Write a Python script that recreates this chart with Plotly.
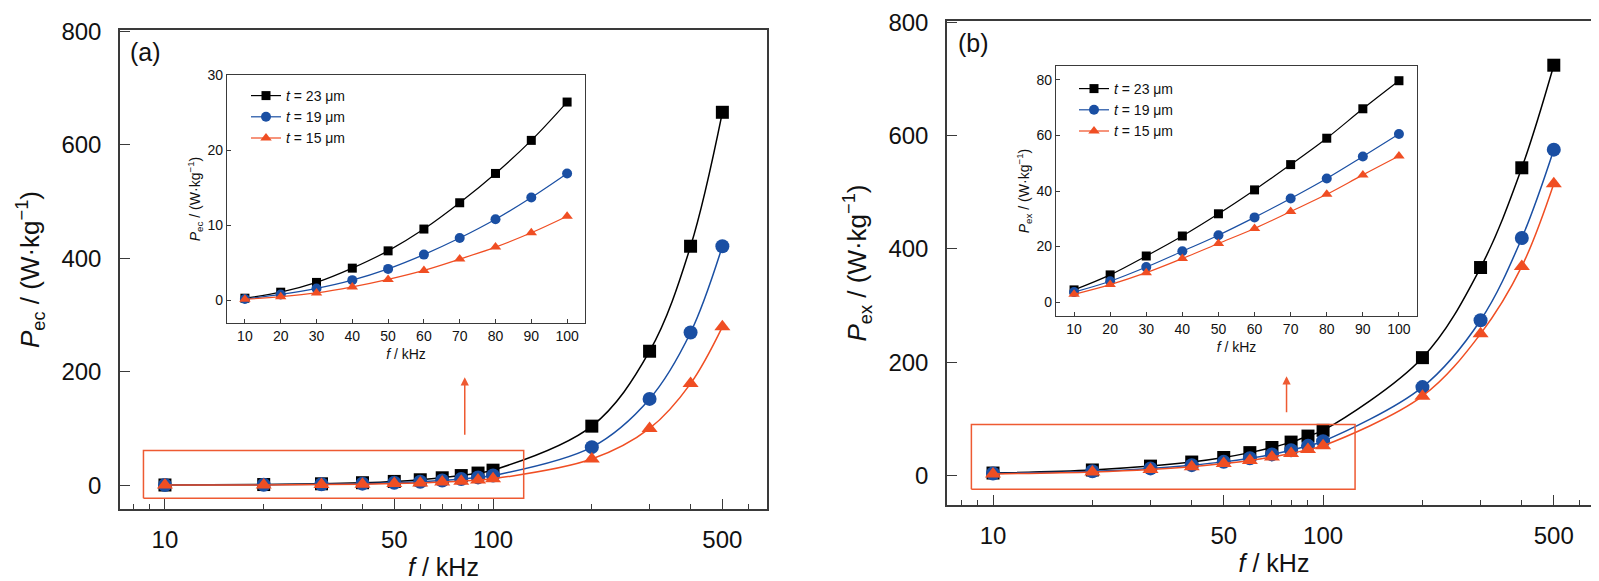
import math
import plotly.graph_objects as go

# frequencies (kHz)
freq = [10, 20, 30, 40, 50, 60, 70, 80, 90, 100, 200, 300, 400, 500]
freq_inset = freq[:10]

# (a) eddy-current loss P_ec (W/kg)
pec_23 = [0.3, 1.1, 2.4, 4.3, 6.6, 9.5, 13.0, 16.9, 21.3, 26.4, 104, 236, 421, 657]
pec_19 = [0.2, 0.8, 1.6, 2.7, 4.2, 6.1, 8.3, 10.8, 13.7, 16.9, 67, 152, 269, 421]
pec_15 = [0.15, 0.5, 1.0, 1.8, 2.8, 4.0, 5.5, 7.1, 9.0, 11.2, 46, 100, 179, 279]

# (b) excess loss P_ex (W/kg)
pex_23 = [4.4, 9.8, 16.6, 23.8, 31.8, 40.4, 49.5, 59.0, 69.6, 79.7, 208, 367, 543, 724]
pex_19 = [3.6, 7.5, 12.6, 18.3, 24.1, 30.5, 37.3, 44.5, 52.4, 60.5, 156, 274, 419, 575]
pex_15 = [2.8, 6.3, 10.6, 15.7, 21.1, 26.5, 32.6, 38.8, 45.8, 52.6, 140, 250, 369, 515]

names = ["<i>t</i> = 23 \u03bcm", "<i>t</i> = 19 \u03bcm", "<i>t</i> = 15 \u03bcm"]
colors = ["#000000", "#1a4fa3", "#f04e23"]
symbols = ["square", "circle", "triangle-up"]
main_sizes = [13, 14, 14]
inset_sizes = [9, 10, 10]

# zoom boxes / arrows (data units)
box_a = dict(x=[8.6, 124], y=[-23, 61])
box_b = dict(x=[8.6, 125], y=[-24, 90])
arrow_a = dict(x=82, y=[86, 190])
arrow_b = dict(x=77.5, y=[109, 175])

FONT = "Liberation Sans, Arial, sans-serif"
AX = "#3a3a3a"
RED = "#ee5a32"
W, H = 1599, 581

fig = go.Figure()


def add_panel(ys, xa, ya, xi, yi, legend):
    for k in range(3):
        fig.add_trace(go.Scatter(
            x=freq, y=ys[k], xaxis=xa, yaxis=ya, mode="lines+markers",
            line=dict(color=colors[k], width=1.5, shape="spline"),
            marker=dict(symbol=symbols[k], size=main_sizes[k], color=colors[k]),
            showlegend=False))
    for k in range(3):
        fig.add_trace(go.Scatter(
            x=freq_inset, y=ys[k][:10], xaxis=xi, yaxis=yi, mode="lines+markers",
            name=names[k], legend=legend,
            line=dict(color=colors[k], width=1.2, shape="spline"),
            marker=dict(symbol=symbols[k], size=inset_sizes[k], color=colors[k])))


def add_box(box, xa, ya):
    x0, x1 = box["x"]
    y0, y1 = box["y"]
    fig.add_trace(go.Scatter(
        x=[x0, x1, x1, x0, x0], y=[y0, y0, y1, y1, y0], xaxis=xa, yaxis=ya,
        mode="lines", line=dict(color=RED, width=1.5), showlegend=False,
        hoverinfo="skip"))


add_panel([pec_23, pec_19, pec_15], "x", "y", "x2", "y2", "legend")
add_panel([pex_23, pex_19, pex_15], "x3", "y3", "x4", "y4", "legend2")
add_box(box_a, "x", "y")
add_box(box_b, "x3", "y3")

for arr, xr, yr in [(arrow_a, "x", "y"), (arrow_b, "x3", "y3")]:
    lx = math.log10(arr["x"])
    fig.add_annotation(x=lx, y=arr["y"][1], ax=lx, ay=arr["y"][0], xref=xr, yref=yr,
                       axref=xr, ayref=yr, showarrow=True, arrowhead=2, arrowsize=1.1,
                       arrowwidth=1.5, arrowcolor=RED, text="")

main_x = dict(type="log", showline=True, mirror=True, linecolor=AX, linewidth=1.5,
              ticks="inside", ticklen=10, tickwidth=1.2, tickcolor=AX,
              tickvals=[10, 50, 100, 500], ticktext=["10", "50", "100", "500"],
              minor=dict(tickvals=[8, 9, 20, 30, 40, 60, 70, 80, 90, 200, 300, 400, 600],
                         ticks="inside", ticklen=5, tickwidth=1.2, tickcolor=AX),
              showgrid=False, zeroline=False, automargin=False,
              tickfont=dict(size=24, color="#111"), ticklabelstandoff=8,
              title=dict(text="<i>f</i> / kHz", font=dict(size=25, color="#111"), standoff=6))
main_y = dict(showline=True, mirror=True, linecolor=AX, linewidth=1.5,
              ticks="inside", ticklen=10, tickwidth=1.2, tickcolor=AX,
              tickvals=[0, 200, 400, 600, 800], showgrid=False, zeroline=False,
              automargin=False, tickfont=dict(size=24, color="#111"), ticklabelstandoff=12)
inset_x = dict(showline=True, mirror=True, linecolor=AX, linewidth=1.2,
               ticks="inside", ticklen=4, tickcolor=AX, range=[5, 105],
               tickvals=freq_inset, showgrid=False, zeroline=False, automargin=False,
               tickfont=dict(size=14, color="#111"),
               title=dict(text="<i>f</i> / kHz", font=dict(size=14, color="#111"), standoff=6))
inset_y = dict(showline=True, mirror=True, linecolor=AX, linewidth=1.2,
               ticks="inside", ticklen=4, tickcolor=AX, showgrid=False, zeroline=False,
               automargin=False, tickfont=dict(size=14, color="#111"))

fig.update_layout(
    width=W, height=H, margin=dict(l=0, r=0, t=0, b=0),
    paper_bgcolor="white", plot_bgcolor="white",
    font=dict(family=FONT, color="#111"),
    xaxis=dict(main_x, domain=[112 / W, 759 / W], range=[0.863, 2.835], anchor="y"),
    yaxis=dict(main_y, domain=[1 - 501 / H, 1 - 22 / H], range=[-42, 802], anchor="x",
               title=dict(text="<i>P</i><sub>ec</sub> / (W\u00b7kg<sup>\u22121</sup>)",
                          font=dict(size=26, color="#111"), standoff=14)),
    xaxis2=dict(inset_x, domain=[219 / W, 577 / W], anchor="y2"),
    yaxis2=dict(inset_y, domain=[1 - 315 / H, 1 - 67 / H], range=[-3, 30],
                tickvals=[0, 10, 20, 30], anchor="x2",
                title=dict(text="<i>P</i><sub>ec</sub> / (W\u00b7kg<sup>\u22121</sup>)",
                           font=dict(size=14, color="#111"), standoff=3)),
    xaxis3=dict(main_x, domain=[939 / W, 1593 / W], range=[0.8606, 2.842], anchor="y3"),
    yaxis3=dict(main_y, domain=[1 - 497 / H, 1 - 13 / H], range=[-52, 802], anchor="x3",
                title=dict(text="<i>P</i><sub>ex</sub> / (W\u00b7kg<sup>\u22121</sup>)",
                           font=dict(size=26, color="#111"), standoff=14)),
    xaxis4=dict(inset_x, domain=[1048 / W, 1409 / W], anchor="y4"),
    yaxis4=dict(inset_y, domain=[1 - 308 / H, 1 - 58 / H], range=[-5, 85],
                tickvals=[0, 20, 40, 60, 80], anchor="x4",
                title=dict(text="<i>P</i><sub>ex</sub> / (W\u00b7kg<sup>\u22121</sup>)",
                           font=dict(size=14, color="#111"), standoff=3)),
    legend=dict(x=238 / W, y=1 - 72 / H, xanchor="left", yanchor="top",
                bgcolor="rgba(0,0,0,0)", font=dict(size=14), tracegroupgap=0),
    legend2=dict(x=1066 / W, y=1 - 65 / H, xanchor="left", yanchor="top",
                 bgcolor="rgba(0,0,0,0)", font=dict(size=14), tracegroupgap=0),
)

fig.add_annotation(text="(a)", x=0.012, y=0.955, xref="x domain", yref="y domain",
                   xanchor="left", yanchor="middle", showarrow=False, font=dict(size=25))
fig.add_annotation(text="(b)", x=0.014, y=0.955, xref="x3 domain", yref="y3 domain",
                   xanchor="left", yanchor="middle", showarrow=False, font=dict(size=25))

fig.write_html("out.html")
